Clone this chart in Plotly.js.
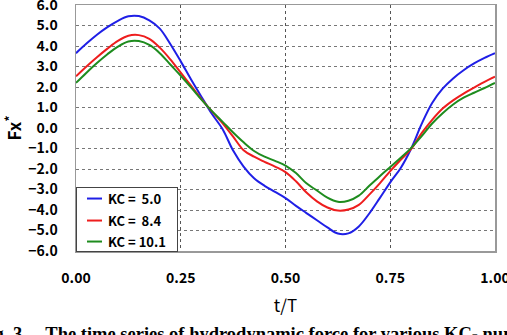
<!DOCTYPE html>
<html>
<head>
<meta charset="utf-8">
<script src="https://cdn.plot.ly/plotly-3.0.1.min.js"></script>
<style>
  html, body { margin: 0; padding: 0; background: #ffffff; }
  #chart { width: 507px; height: 335px; }
</style>
</head>
<body>
<div id="chart"></div>
<script>
// Non-dimensional time t/T over one wave period
const tT = [0, 0.025, 0.05, 0.075, 0.1, 0.125, 0.15, 0.175, 0.2, 0.225,
  0.25, 0.275, 0.3, 0.325, 0.35, 0.375, 0.4, 0.425, 0.45, 0.475,
  0.5, 0.525, 0.55, 0.575, 0.6, 0.625, 0.65, 0.675, 0.7, 0.725,
  0.75, 0.775, 0.8, 0.825, 0.85, 0.875, 0.9, 0.925, 0.95, 0.975, 1.0];

// Hydrodynamic force Fx* for KC = 5.0
const fxKC50 = [3.65, 4.12, 4.55, 4.92, 5.23, 5.45, 5.46, 5.25, 4.85, 4.1,
  3.25, 2.35, 1.5, 0.67, -0.06, -1.1, -1.88, -2.45, -2.82, -3.12,
  -3.42, -3.8, -4.15, -4.5, -4.85, -5.15, -5.14, -4.8, -4.17, -3.42,
  -2.65, -1.95, -1.0, 0.2, 1.22, 1.92, 2.42, 2.82, 3.15, 3.42, 3.65];

// Hydrodynamic force Fx* for KC = 8.4
const fxKC84 = [2.52, 3.0, 3.45, 3.87, 4.25, 4.5, 4.53, 4.35, 3.92, 3.35,
  2.7, 2.05, 1.4, 0.8, 0.23, -0.42, -1.08, -1.4, -1.65, -1.88,
  -2.15, -2.6, -3.15, -3.58, -3.88, -4.03, -3.98, -3.75, -3.25, -2.7,
  -2.1, -1.55, -1.02, -0.25, 0.4, 0.95, 1.35, 1.68, 1.97, 2.25, 2.5];

// Hydrodynamic force Fx* for KC = 10.1
const fxKC101 = [2.2, 2.7, 3.17, 3.6, 3.97, 4.22, 4.24, 4.05, 3.65, 3.1,
  2.55, 1.97, 1.37, 0.81, 0.3, -0.22, -0.7, -1.12, -1.4, -1.6,
  -1.83, -2.2, -2.7, -3.05, -3.4, -3.6, -3.55, -3.3, -2.82, -2.35,
  -1.9, -1.45, -0.97, -0.4, 0.22, 0.72, 1.15, 1.48, 1.72, 1.95, 2.2];

const seriesNames = ['KC =\u00a0\u00a05.0', 'KC =\u00a0\u00a08.4', 'KC = 10.1'];
const seriesColors = ['#1f1fe6', '#ee1d1d', '#1e8c1e'];
const seriesValues = [fxKC50, fxKC84, fxKC101];

const xTicks = [0, 0.25, 0.5, 0.75, 1.0];
const xTickText = ['0.00', '0.25', '0.50', '0.75', '1.00'];
const yTicks = [-6, -5, -4, -3, -2, -1, 0, 1, 2, 3, 4, 5, 6];
const yTickText = ['\u22126.0', '\u22125.0', '\u22124.0', '\u22123.0', '\u22122.0', '\u22121.0',
  '0.0', '1.0', '2.0', '3.0', '4.0', '5.0', '6.0'];

const gothic = 'Noto Sans CJK JP, DejaVu Sans, sans-serif';
const tickFont = { family: gothic, size: 14, color: '#000000', weight: 600 };

const traces = seriesValues.map((vals, i) => ({
  type: 'scatter',
  mode: 'lines',
  x: tT,
  y: vals,
  name: seriesNames[i],
  line: { color: seriesColors[i], width: 2, shape: 'spline', smoothing: 1 }
}));

const layout = {
  width: 507,
  height: 335,
  margin: { l: 76, r: 12, t: 5, b: 84 },
  paper_bgcolor: '#ffffff',
  plot_bgcolor: '#ffffff',
  font: { family: gothic, color: '#000000', size: 13 },
  xaxis: {
    range: [0, 1],
    tickvals: xTicks,
    ticktext: xTickText,
    ticks: '',
    ticklabelstandoff: 14,
    ticklabeloverflow: 'allow',
    tickfont: tickFont,
    showgrid: true,
    gridcolor: '#555555',
    griddash: 'dot',
    gridwidth: 1,
    zeroline: false,
    showline: true,
    linecolor: '#999999',
    linewidth: 1.5,
    mirror: true,
    title: { text: 't/T', font: { family: gothic, size: 17, color: '#000000' }, standoff: 14 }
  },
  yaxis: {
    range: [-6, 6],
    tickvals: yTicks,
    ticktext: yTickText,
    ticks: '',
    ticklabelstandoff: 14,
    ticklabeloverflow: 'allow',
    tickfont: tickFont,
    showgrid: true,
    gridcolor: '#777777',
    griddash: 'dot',
    gridwidth: 1,
    zeroline: false,
    showline: true,
    linecolor: '#999999',
    linewidth: 1.5,
    mirror: true,
    title: { text: 'Fx<sup>*</sup>', font: { family: gothic, size: 17, color: '#000000', weight: 600 }, standoff: 16 }
  },
  showlegend: true,
  legend: {
    x: 0, y: 0.26,
    xanchor: 'left', yanchor: 'top',
    bgcolor: '#ffffff',
    bordercolor: '#444444',
    borderwidth: 1,
    font: { family: gothic, size: 13, color: '#000000', weight: 600 },
    itemwidth: 30,
    tracegroupgap: 0
  },
  annotations: [{
    xref: 'paper', yref: 'paper',
    x: -0.2387, y: -0.29,
    xanchor: 'left', yanchor: 'top',
    showarrow: false,
    align: 'left',
    text: 'Fig. 3\u00a0\u00a0\u00a0\u00a0\u00a0The time series of hydrodynamic force for various KC- numbers',
    font: { family: 'Liberation Serif, Times New Roman, serif', size: 18.5, color: '#000000', weight: 'bold' }
  }]
};

// Compact legend keys: short sample lines and a tighter box
function compactLegend(gd) {
  const leg = gd.querySelector('.legend');
  if (!leg) return;
  const bg = leg.querySelector('rect.bg');
  if (bg) { bg.setAttribute('width', 101); bg.setAttribute('height', 64); }
  const rows = [11.5, 33.5, 54.5];
  leg.querySelectorAll('.traces').forEach((g, i) => {
    g.setAttribute('transform', 'translate(1,' + rows[i] + ')');
    g.querySelectorAll('.legendlines path').forEach(p => p.setAttribute('d', 'M10,0h15'));
    const txt = g.querySelector('text.legendtext');
    if (txt) txt.setAttribute('x', 31);
  });
}

Plotly.newPlot('chart', traces, layout, { displayModeBar: false, staticPlot: true })
  .then(compactLegend);
</script>
</body>
</html>
